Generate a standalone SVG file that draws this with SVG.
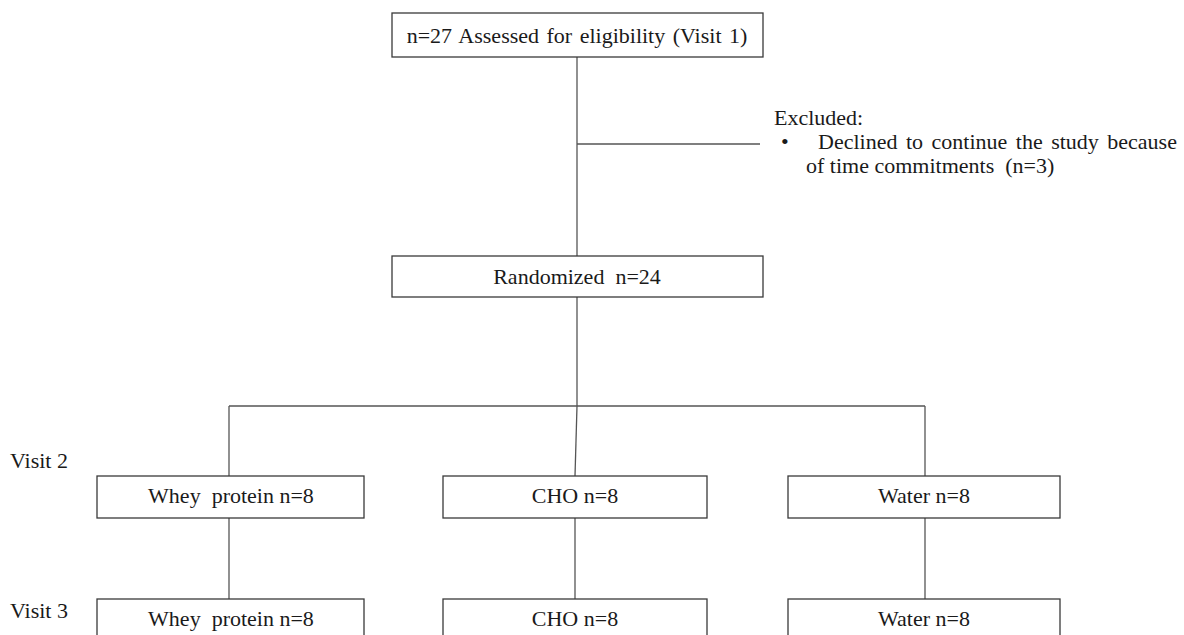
<svg xmlns="http://www.w3.org/2000/svg" width="1184" height="635" viewBox="0 0 1184 635">
<style>
.box{fill:#fff;stroke:#3a3a3a;stroke-width:1.3}
.t{font-family:"Liberation Serif","Times New Roman",serif;font-size:22px;fill:#1a1a1a;white-space:pre}
.c{text-anchor:middle}
.ln{stroke:#555;stroke-width:1.3;fill:none}
</style>
<rect width="1184" height="635" fill="#fff"/>
<g id="connectors">
<line class="ln" x1="577" y1="57" x2="577" y2="256"/>
<line class="ln" x1="577" y1="144" x2="760" y2="144"/>
<line class="ln" x1="577" y1="297" x2="577" y2="406"/>
<line class="ln" x1="229" y1="406" x2="925" y2="406"/>
<line class="ln" x1="229" y1="406" x2="229" y2="476"/>
<line class="ln" x1="577" y1="406" x2="575" y2="476"/>
<line class="ln" x1="925" y1="406" x2="925" y2="476"/>
<line class="ln" x1="229" y1="518" x2="229" y2="599"/>
<line class="ln" x1="575" y1="518" x2="575" y2="599"/>
<line class="ln" x1="925" y1="518" x2="925" y2="599"/>
</g>
<g id="n-assessed"><rect class="box" x="392" y="13" width="371" height="44"/><text class="t c" x="577" y="43" word-spacing="2">n=27 Assessed for eligibility (Visit 1)</text></g>
<g id="n-excluded"><text class="t" x="774" y="125">Excluded:</text><text class="t" x="781" y="149">•</text><text class="t" x="818" y="149" word-spacing="3">Declined to continue the study because</text><text class="t" x="806" y="173">of time commitments  (n=3)</text></g>
<g id="n-random"><rect class="box" x="392" y="256" width="371" height="41"/><text class="t c" x="577" y="284">Randomized  n=24</text></g>
<g id="n-visit2"><text class="t" x="10" y="468">Visit 2</text></g>
<g id="n-visit3"><text class="t" x="10" y="618">Visit 3</text></g>
<g id="n-whey2"><rect class="box" x="97" y="476" width="267" height="42"/><text class="t c" x="231" y="503">Whey  protein n=8</text></g>
<g id="n-cho2"><rect class="box" x="443" y="476" width="264" height="42"/><text class="t c" x="575" y="503">CHO n=8</text></g>
<g id="n-water2"><rect class="box" x="788" y="476" width="272" height="42"/><text class="t c" x="924" y="503">Water n=8</text></g>
<g id="n-whey3"><rect class="box" x="97" y="599" width="267" height="42"/><text class="t c" x="231" y="626">Whey  protein n=8</text></g>
<g id="n-cho3"><rect class="box" x="443" y="599" width="264" height="42"/><text class="t c" x="575" y="626">CHO n=8</text></g>
<g id="n-water3"><rect class="box" x="788" y="599" width="272" height="42"/><text class="t c" x="924" y="626">Water n=8</text></g>
</svg>
